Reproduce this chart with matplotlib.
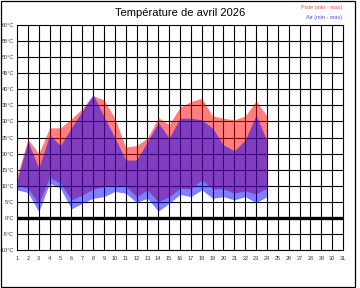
import matplotlib
matplotlib.use("Agg")
import matplotlib.pyplot as plt
from matplotlib.patches import Rectangle

days = list(range(1, 25))
piste_max = [13, 24.5, 20, 28, 28, 30.8, 34, 38, 36.7, 31, 22, 22.5, 24.8, 31.2, 29, 34.4, 36.2, 37.2, 31.7, 31, 30.5, 31.7, 36.4, 31.7]
piste_min = [10.2, 9.2, 4.5, 12.6, 10.8, 5.6, 7.1, 8.9, 9.7, 10.2, 9.9, 6.6, 8.7, 5.0, 6.6, 9.2, 9.0, 11.8, 9.0, 9.0, 7.7, 8.4, 7.4, 9.2]
air_max = [11.5, 23.7, 15.5, 25.8, 22.5, 28, 33.2, 38.4, 31.5, 25, 18, 18, 23.7, 29.6, 24.8, 31, 31, 30.5, 27.9, 22.7, 20.9, 24.2, 32, 24]
air_min = [8.7, 7.9, 1.9, 10.8, 9.2, 2.8, 4.5, 6.1, 6.6, 8.2, 7.7, 4.8, 6.1, 2.1, 4.5, 7.3, 6.6, 8.7, 6.1, 6.6, 5.6, 6.6, 4.7, 6.6]

x_ticks = list(range(1, 32))
y_ticks = list(range(-10, 61, 5))
y_labels = [f"{v}°C" for v in y_ticks]
title = "Température de avril 2026"
legend_piste = "Piste (min - max)"
legend_air = "Air (min - max)"

plt.rcParams['font.family'] = ['Liberation Sans', 'DejaVu Sans']

W, H = 360, 288
fig = plt.figure(figsize=(W / 100, H / 100), dpi=100)
left, right, top, bottom = 17, 343, 25, 250
ax = fig.add_axes([left / W, 1 - bottom / H, (right - left) / W, (bottom - top) / H])
ax.set_xlim(1, 31)
ax.set_ylim(-10, 60)

for s in ax.spines.values():
    s.set_visible(False)
ax.set_xticks(x_ticks)
ax.set_xticklabels([str(v) for v in x_ticks], fontsize=4, color='#333333')
ax.set_yticks(y_ticks)
ax.set_yticklabels(y_labels, fontsize=4, color='#333333')
ax.tick_params(length=0, pad=4)
ax.tick_params(axis='y', pad=2)

for xv in x_ticks:
    ax.axvline(xv, color='black', lw=0.8, zorder=1, clip_on=False)
for yv in y_ticks:
    ax.axhline(yv, color='black', lw=0.8, zorder=1, clip_on=False)
ax.axhline(0, color='black', lw=2.4, zorder=1)

ax.fill_between(days, piste_min, piste_max, color=(1, 0, 0), alpha=0.5, lw=0, zorder=2, antialiased=False)
ax.fill_between(days, air_min, air_max, color=(0, 0, 1), alpha=0.5, lw=0, zorder=3, antialiased=False)

fig.text(180 / W, 1 - 13 / H, title, ha='center', va='center', fontsize=8)
fig.text(342 / W, 1 - 8 / H, legend_piste, ha='right', va='center', fontsize=4, color='#ff5050')
fig.text(342 / W, 1 - 17 / H, legend_air, ha='right', va='center', fontsize=4, color='#5050ff')

fig.patches.append(Rectangle((0.5 / W, 1.5 / H), 354.5 / W, 285.5 / H, transform=fig.transFigure,
                             fill=False, edgecolor='black', lw=0.9))

fig.savefig('out.png', dpi=100)
